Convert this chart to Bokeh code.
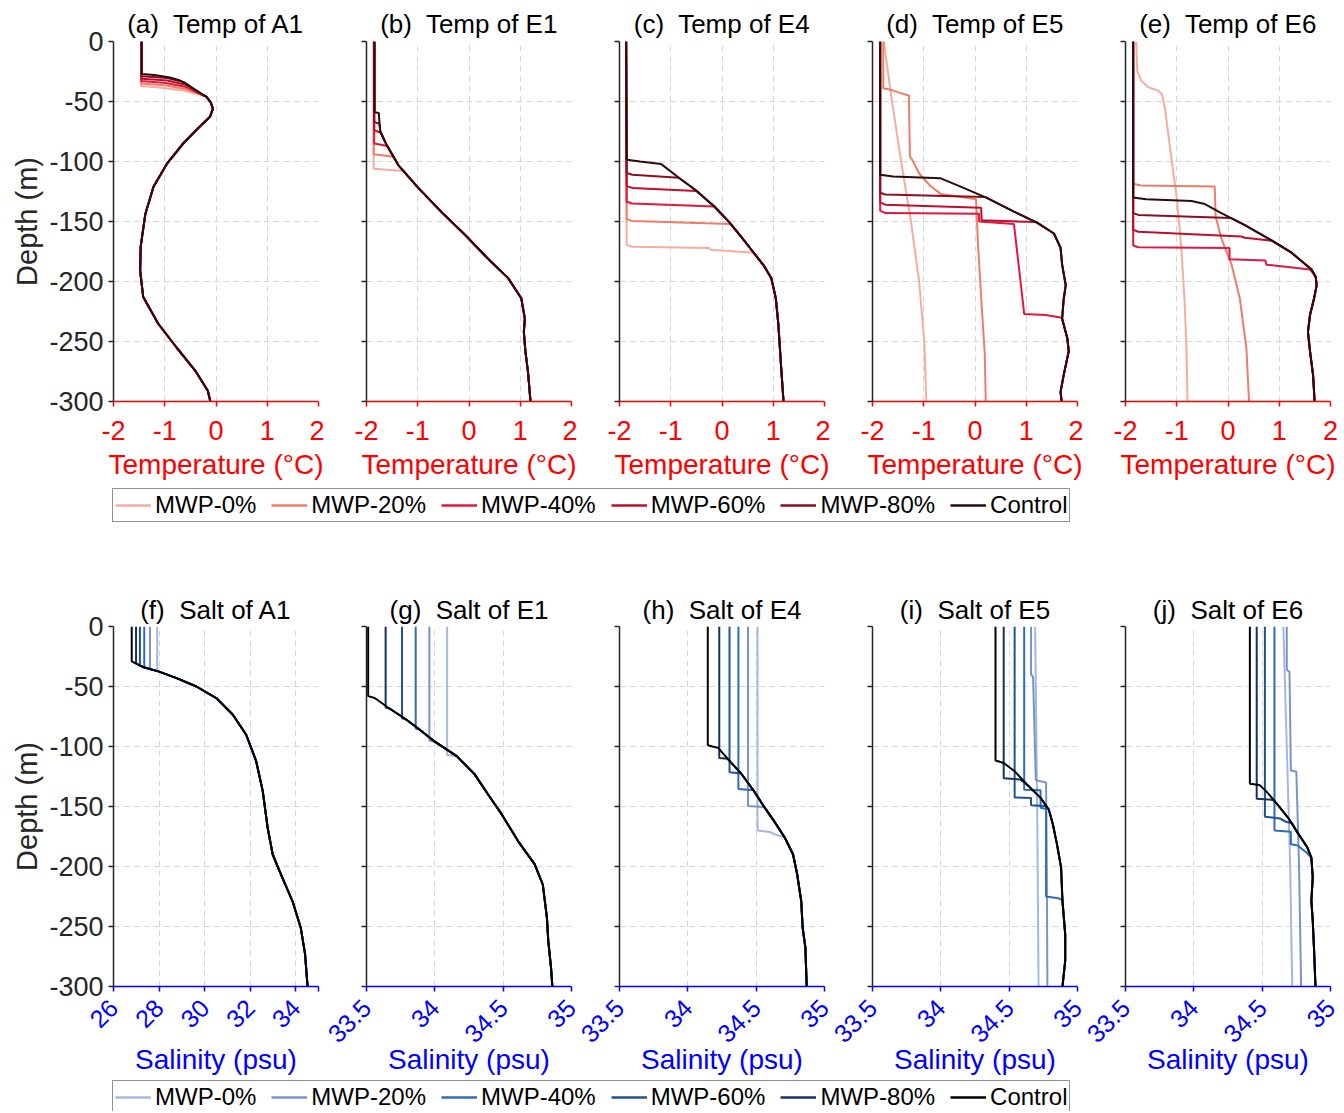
import math
from bokeh.plotting import figure
from bokeh.models import Range1d, FixedTicker, Legend, LegendItem
from bokeh.layouts import column, row
from bokeh.embed import file_html
from bokeh.resources import INLINE

FONT = "Liberation Sans"

SERIES = ["MWP-0%", "MWP-20%", "MWP-40%", "MWP-60%", "MWP-80%", "Control"]
TEMP_COLORS = ["#F5ADA0", "#EE7D68", "#E2173D", "#BF0E2C", "#8A0F20", "#2B0B0B"]
SALT_COLORS = ["#A3B8E0", "#7A92CA", "#2E6DB4", "#1F5290", "#14325E", "#000000"]

DEPTH_TICKS = [0, -50, -100, -150, -200, -250, -300]
TEMP_TICKS = [-2, -1, 0, 1, 2]
TEMP_TICK_LABELS = ["-2", "-1", "0", "1", "2"]
SALT_TICKS_A1 = [26, 28, 30, 32, 34, 35]
SALT_TICK_LABELS_A1 = ["26", "28", "30", "32", "34", ""]
SALT_TICKS_E = [33.5, 34, 34.5, 35]
SALT_TICK_LABELS_E = ["33.5", "34", "34.5", "35"]

# ---------------- Temperature (°C) ----------------
# each MWP profile (order MWP-0%, 20%, 40%, 60%, 80%) follows Control below its last depth
TA1_CTRL_Z = [0, -27, -28, -30, -32.5, -36, -39, -46, -51, -56, -63, -71, -85, -102, -121, -144, -171, -191, -213, -235, -255, -274, -291, -300]
TA1_CTRL_V = [-1.45, -1.45, -1.2, -0.9, -0.7, -0.56, -0.45, -0.19, -0.1, -0.06, -0.12, -0.32, -0.64, -0.96, -1.22, -1.38, -1.47, -1.48, -1.42, -1.13, -0.77, -0.41, -0.16, -0.11]
TA1_MWP_Z = [[0, -37, -38.5, -41, -45], [0, -35, -36.5, -39.5, -45], [0, -33, -34.5, -38, -45], [0, -31, -32.5, -36, -45], [0, -29, -30.5, -34, -45]]
TA1_MWP_V = [[-1.46, -1.46, -1.05, -0.62, -0.24], [-1.46, -1.46, -1.0, -0.6, -0.24], [-1.46, -1.46, -0.98, -0.58, -0.24], [-1.45, -1.45, -0.95, -0.6, -0.24], [-1.45, -1.45, -0.95, -0.62, -0.24]]

TE1_CTRL_Z = [0, -59, -59.5, -66, -75, -86, -103, -122, -142, -161, -181, -197, -214, -231, -242, -258, -275, -300]
TE1_CTRL_V = [-1.84, -1.84, -1.76, -1.75, -1.73, -1.61, -1.38, -0.99, -0.54, -0.08, 0.37, 0.76, 1.02, 1.09, 1.07, 1.10, 1.15, 1.20]
TE1_MWP_Z = [[0, -106, -108], [0, -94, -96], [0, -85, -87], [0, -74, -76], [0, -67, -68.5]]
TE1_MWP_V = [[-1.86, -1.86, -1.27], [-1.86, -1.86, -1.47], [-1.85, -1.85, -1.59], [-1.85, -1.85, -1.72], [-1.85, -1.85, -1.75]]

TE4_CTRL_Z = [0, -98.5, -100, -102, -114, -124, -137.5, -150.5, -163, -175, -187, -197, -214, -236, -269, -300]
TE4_CTRL_V = [-1.87, -1.86, -1.6, -1.19, -0.83, -0.51, -0.15, 0.14, 0.38, 0.60, 0.82, 0.96, 1.05, 1.10, 1.15, 1.20]
TE4_MWP_Z = [[0, -169.5, -171, -172, -173.5, -176], [0, -148, -149.5, -152], [0, -133.5, -135, -137.5], [0, -120.5, -122, -124.5], [0, -109.5, -111, -113.5]]
TE4_MWP_V = [[-1.87, -1.86, -1.75, -0.25, -0.22, 0.62], [-1.87, -1.86, -1.75, 0.16], [-1.87, -1.86, -1.75, -0.14], [-1.87, -1.86, -1.75, -0.50], [-1.87, -1.86, -1.75, -0.84]]

TE5_CTRL_Z = [0, -111, -112.5, -114, -121, -130.5, -141.7, -151, -160, -172, -186, -203, -215, -231, -247, -258, -278, -292, -300]
TE5_CTRL_V = [-1.85, -1.85, -1.6, -0.67, -0.28, 0.24, 0.76, 1.21, 1.54, 1.67, 1.70, 1.77, 1.73, 1.70, 1.80, 1.83, 1.73, 1.67, 1.69]
TE5_MWP_Z = [[0, -50, -100, -150, -200, -250, -300],
             [0, -39, -40.5, -43, -45, -96, -99, -110, -120, -127, -130, -131.5, -170, -220, -260, -300],
             [0, -141, -143, -143.5, -150, -152, -227, -228, -230],
             [0, -134, -136, -138.5, -149, -150.5],
             [0, -126, -127.5, -129.5]]
TE5_MWP_V = [[-1.78, -1.62, -1.44, -1.25, -1.09, -0.99, -0.95],
             [-1.79, -1.79, -1.62, -1.45, -1.29, -1.27, -1.22, -1.09, -0.88, -0.67, -0.2, 0.02, 0.06, 0.13, 0.19, 0.21],
             [-1.85, -1.85, -1.75, 0.08, 0.08, 0.76, 0.96, 1.38, 1.67],
             [-1.85, -1.85, -1.75, 0.12, 0.13, 1.19],
             [-1.85, -1.85, -1.75, 0.2]]

TE6_CTRL_Z = [0, -130, -131.5, -133, -135.5, -143, -153, -164, -176, -190, -196, -203, -214, -228, -242, -258, -278, -300]
TE6_CTRL_V = [-1.85, -1.85, -1.6, -0.71, -0.45, -0.13, 0.33, 0.78, 1.24, 1.63, 1.71, 1.73, 1.68, 1.60, 1.56, 1.60, 1.66, 1.69]
TE6_MWP_Z = [[0, -25, -33, -38, -41, -44, -56, -89, -130, -172, -214, -256, -300],
             [0, -118.5, -120, -120.8, -146, -164, -186, -214, -256, -300],
             [0, -170, -171.5, -172, -181.5, -182.5, -186, -190],
             [0, -157, -158.5, -162.5, -163.5, -166],
             [0, -143, -144.5, -147]]
TE6_MWP_V = [[-1.79, -1.77, -1.69, -1.56, -1.36, -1.29, -1.23, -1.13, -1.0, -0.91, -0.85, -0.81, -0.79],
             [-1.85, -1.85, -1.7, -0.26, -0.24, -0.13, 0.07, 0.23, 0.36, 0.41],
             [-1.85, -1.85, -1.75, 0.03, 0.03, 0.73, 0.75, 1.60],
             [-1.85, -1.85, -1.75, 0.26, 0.33, 0.86],
             [-1.85, -1.85, -1.75, 0.05]]

# ---------------- Salinity (psu) ----------------
SA1_CTRL_Z = [0, -29, -31, -34, -37.4, -43, -50, -59.6, -73.5, -90, -112, -137, -168, -190, -206.5, -229, -251, -273, -300]
SA1_CTRL_V = [26.80, 26.80, 27.0, 27.33, 27.97, 28.77, 29.64, 30.51, 31.24, 31.82, 32.26, 32.55, 32.77, 32.99, 33.35, 33.86, 34.22, 34.41, 34.52]
SA1_MWP_Z = [[0, -37], [0, -35.8], [0, -34.2], [0, -32.5], [0, -31]]
SA1_MWP_V = [[27.92, 27.92], [27.6, 27.6], [27.35, 27.35], [27.16, 27.16], [26.99, 26.99]]

SE1_CTRL_Z = [0, -58, -59.6, -68.5, -77.5, -86, -96, -108, -123, -140, -156.6, -179, -198, -215, -242.6, -262, -284, -300]
SE1_CTRL_V = [33.512, 33.512, 33.56, 33.67, 33.79, 33.89, 34.0, 34.16, 34.29, 34.39, 34.49, 34.61, 34.73, 34.79, 34.82, 34.83, 34.85, 34.86]
SE1_MWP_Z = [[0, -107, -108], [0, -95, -96], [0, -85, -86], [0, -76.5, -77.5], [0, -67.5, -68.5]]
SE1_MWP_V = [[34.09, 34.09, 34.16], [33.96, 33.96, 34.0], [33.86, 33.86, 33.89], [33.76, 33.76, 33.79], [33.64, 33.64, 33.67]]

SE4_CTRL_Z = [0, -99, -100, -101, -110, -122.5, -136.5, -150.5, -162, -176, -190, -206.5, -229, -251, -267.5, -300]
SE4_CTRL_V = [34.146, 34.146, 34.18, 34.22, 34.29, 34.39, 34.48, 34.56, 34.63, 34.71, 34.77, 34.80, 34.83, 34.84, 34.86, 34.87]
SE4_MWP_Z = [[0, -170, -171.5, -173, -175.5], [0, -149.5, -150.5], [0, -135.5, -136.5], [0, -121.5, -122.5], [0, -109.5, -110.3]]
SE4_MWP_V = [[34.51, 34.51, 34.61, 34.63, 34.70], [34.44, 34.44, 34.56], [34.37, 34.37, 34.48], [34.305, 34.305, 34.39], [34.23, 34.23, 34.29]]

SE5_CTRL_Z = [0, -111.7, -113.7, -120.6, -131.7, -142.8, -152.5, -165, -181.6, -201, -228.7, -256.5, -278.6, -300]
SE5_CTRL_V = [34.40, 34.40, 34.46, 34.54, 34.63, 34.73, 34.79, 34.82, 34.85, 34.88, 34.89, 34.91, 34.91, 34.89]
SE5_MWP_Z = [[0, -50, -150, -300],
             [0, -40, -42, -128, -130, -200, -300],
             [0, -136, -136.5, -151, -152, -225, -226.5, -228],
             [0, -142.5, -143, -149, -149.5],
             [0, -126.5, -127.5]]
SE5_MWP_V = [[34.69, 34.695, 34.705, 34.715],
             [34.66, 34.66, 34.675, 34.695, 34.77, 34.775, 34.78],
             [34.61, 34.61, 34.73, 34.73, 34.77, 34.77, 34.86, 34.89],
             [34.54, 34.54, 34.66, 34.66, 34.76],
             [34.46, 34.46, 34.58]]

SE6_CTRL_Z = [0, -131, -132, -138.6, -148, -159.4, -172, -184, -192.7, -209, -228.7, -245, -270, -300]
SE6_CTRL_V = [34.41, 34.41, 34.48, 34.54, 34.61, 34.69, 34.76, 34.83, 34.86, 34.87, 34.86, 34.87, 34.88, 34.89]
SE6_MWP_Z = [[0, -100, -200, -300],
             [0, -36, -38, -120, -121, -200, -300],
             [0, -170, -171, -181.5, -182.5, -189],
             [0, -158.5, -160, -163, -164],
             [0, -143.5, -144.5]]
SE6_MWP_V = [[34.655, 34.68, 34.705, 34.72],
             [34.68, 34.68, 34.70, 34.71, 34.75, 34.77, 34.785],
             [34.59, 34.59, 34.71, 34.71, 34.76, 34.83],
             [34.52, 34.52, 34.63, 34.68, 34.72],
             [34.46, 34.46, 34.58]]

AXIS_DARK = "#262626"
TEMP_AXIS = "#FF0000"
SALT_AXIS = "#0000FF"


def join_ctrl(z, v, cz, cv):
    zz, vv = list(z), list(v)
    last = zz[-1]
    for d, t in zip(cz, cv):
        if d < last:
            zz.append(d)
            vv.append(t)
    return zz, vv


def panel(title, xr, xticks, xlabels, xlabel, axcolor, cz, cv, mz, mv, colors,
          first, last, rotate, top_border, title_standoff, bottom_border,
          tick_size, tick_standoff, label_standoff):
    p = figure(frame_width=205, frame_height=360,
               x_range=Range1d(*xr), y_range=Range1d(-300, 0),
               output_backend="svg", toolbar_location=None,
               min_border_left=113 if first else 42,
               min_border_right=10 if last else 6,
               min_border_top=top_border,
               min_border_bottom=bottom_border,
               title=title)
    p.outline_line_color = None
    p.background_fill_color = "white"
    p.border_fill_color = "white"
    p.title.text_font = FONT
    p.title.text_font_size = "26px"
    p.title.text_font_style = "normal"
    p.title.text_color = "black"
    p.title.align = "center"
    p.title.standoff = title_standoff

    xa = p.xaxis[0]
    xa.ticker = FixedTicker(ticks=xticks)
    xa.major_label_overrides = {t: lab for t, lab in zip(xticks, xlabels)}
    xa.axis_line_color = axcolor
    xa.axis_line_width = 1.5
    xa.major_tick_line_color = axcolor
    xa.major_tick_line_width = 1.5
    xa.major_tick_out = 5
    xa.major_tick_in = 0
    xa.minor_tick_line_color = None
    xa.major_label_text_color = axcolor
    xa.major_label_text_font = FONT
    xa.major_label_text_font_size = tick_size
    xa.major_label_standoff = tick_standoff
    xa.axis_label = xlabel
    xa.axis_label_text_color = axcolor
    xa.axis_label_text_font = FONT
    xa.axis_label_text_font_size = "28px"
    xa.axis_label_text_font_style = "normal"
    xa.axis_label_standoff = label_standoff
    if rotate:
        xa.major_label_orientation = math.pi / 4

    ya = p.yaxis[0]
    ya.ticker = FixedTicker(ticks=DEPTH_TICKS)
    ya.major_label_overrides = {t: (str(t) if first else "") for t in DEPTH_TICKS}
    ya.axis_line_color = AXIS_DARK
    ya.axis_line_width = 1.5
    ya.major_tick_line_color = AXIS_DARK
    ya.major_tick_line_width = 1.5
    ya.major_tick_out = 5
    ya.major_tick_in = 0
    ya.minor_tick_line_color = None
    ya.major_label_text_color = AXIS_DARK
    ya.major_label_text_font = FONT
    ya.major_label_text_font_size = "27px"
    ya.major_label_standoff = 5
    if first:
        ya.axis_label = "Depth (m)"
        ya.axis_label_text_color = AXIS_DARK
        ya.axis_label_text_font = FONT
        ya.axis_label_text_font_size = "29px"
        ya.axis_label_text_font_style = "normal"
        ya.axis_label_standoff = 3

    p.xgrid[0].ticker = xa.ticker
    p.ygrid[0].ticker = ya.ticker
    for g in (p.xgrid[0], p.ygrid[0]):
        g.grid_line_color = "#d6d6d6"
        g.grid_line_dash = "6 4"
        g.grid_line_width = 1

    for i in range(5):
        z, v = join_ctrl(mz[i], mv[i], cz, cv)
        p.line(v, z, line_color=colors[i], line_width=2)
    p.line(cv, cz, line_color=colors[5], line_width=2)
    return p


def legend_fig(height, colors, y_loc):
    f = figure(width=1340, height=height, x_range=Range1d(0, 1), y_range=Range1d(0, 1),
               x_axis_location=None, y_axis_location=None, min_border=0,
               output_backend="svg", toolbar_location=None)
    f.outline_line_color = None
    f.grid.visible = False
    items = []
    for name, c in zip(SERIES, colors):
        r = f.line(x=[math.nan], y=[math.nan], line_color=c, line_width=2.5)
        items.append(LegendItem(label=name, renderers=[r]))
    lg = Legend(items=items, orientation="horizontal", location=(112, y_loc),
                label_text_font=FONT, label_text_font_size="24px", label_text_color="black",
                glyph_width=36, label_standoff=4, spacing=15, padding=2, margin=0,
                border_line_color=AXIS_DARK, border_line_width=1,
                background_fill_color="white", background_fill_alpha=1.0)
    f.add_layout(lg)
    return f


TEMP_PANELS = [
    ("(a)\u00a0 Temp of A1", TA1_CTRL_Z, TA1_CTRL_V, TA1_MWP_Z, TA1_MWP_V),
    ("(b)\u00a0 Temp of E1", TE1_CTRL_Z, TE1_CTRL_V, TE1_MWP_Z, TE1_MWP_V),
    ("(c)\u00a0 Temp of E4", TE4_CTRL_Z, TE4_CTRL_V, TE4_MWP_Z, TE4_MWP_V),
    ("(d)\u00a0 Temp of E5", TE5_CTRL_Z, TE5_CTRL_V, TE5_MWP_Z, TE5_MWP_V),
    ("(e)\u00a0 Temp of E6", TE6_CTRL_Z, TE6_CTRL_V, TE6_MWP_Z, TE6_MWP_V),
]
SALT_PANELS = [
    ("(f)\u00a0 Salt of A1", SA1_CTRL_Z, SA1_CTRL_V, SA1_MWP_Z, SA1_MWP_V),
    ("(g)\u00a0 Salt of E1", SE1_CTRL_Z, SE1_CTRL_V, SE1_MWP_Z, SE1_MWP_V),
    ("(h)\u00a0 Salt of E4", SE4_CTRL_Z, SE4_CTRL_V, SE4_MWP_Z, SE4_MWP_V),
    ("(i)\u00a0 Salt of E5", SE5_CTRL_Z, SE5_CTRL_V, SE5_MWP_Z, SE5_MWP_V),
    ("(j)\u00a0 Salt of E6", SE6_CTRL_Z, SE6_CTRL_V, SE6_MWP_Z, SE6_MWP_V),
]

top_figs = []
for i, (t, cz, cv, mz, mv) in enumerate(TEMP_PANELS):
    top_figs.append(panel(t, (-2, 2), TEMP_TICKS, TEMP_TICK_LABELS, "Temperature (°C)", TEMP_AXIS,
                          cz, cv, mz, mv, TEMP_COLORS, i == 0, i == 4, False, 41, 6, 86,
                          "27px", 14, 6))

bot_figs = []
for i, (t, cz, cv, mz, mv) in enumerate(SALT_PANELS):
    if i == 0:
        xr, xt, xl, lso = (26, 35), SALT_TICKS_A1, SALT_TICK_LABELS_A1, 5
    else:
        xr, xt, xl, lso = (33.5, 35), SALT_TICKS_E, SALT_TICK_LABELS_E, -10
    bot_figs.append(panel(t, xr, xt, xl, "Salinity (psu)", SALT_AXIS,
                          cz, cv, mz, mv, SALT_COLORS, i == 0, i == 4, True, 38, 4, 92,
                          "25px", 12, lso))

leg1 = legend_fig(101, TEMP_COLORS, 66)
leg2 = legend_fig(33, SALT_COLORS, -3)

layout = column(row(*top_figs), leg1, row(*bot_figs), leg2)

with open("out.html", "w") as fh:
    fh.write(file_html(layout, INLINE))
